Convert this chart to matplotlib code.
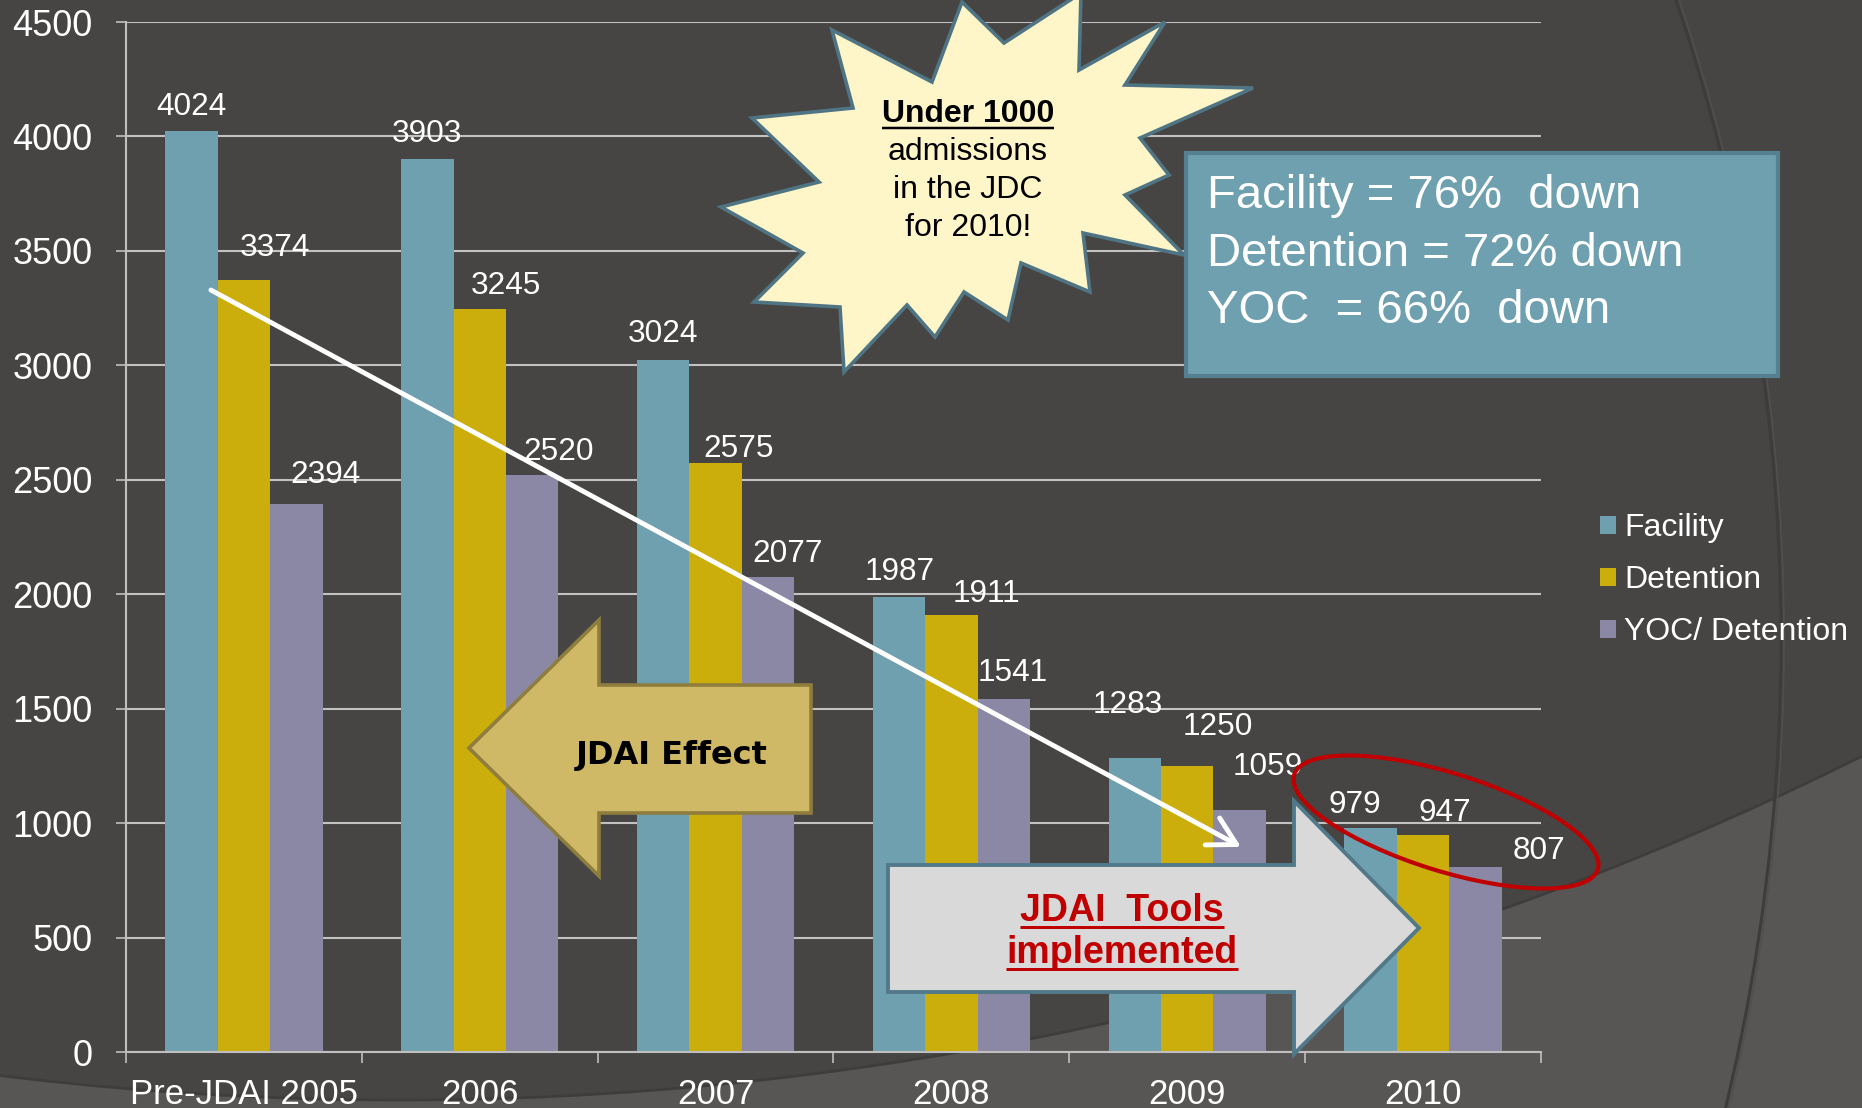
import matplotlib
matplotlib.use('Agg')
import matplotlib.pyplot as plt
from matplotlib.patches import Polygon, Ellipse, Circle, Rectangle
import numpy as np

plt.rcParams['font.family'] = ['Liberation Sans', 'DejaVu Sans']

# ---------------- data ----------------
categories = ['Pre-JDAI 2005', '2006', '2007', '2008', '2009', '2010']
facility = [4024, 3903, 3024, 1987, 1283, 979]
detention = [3374, 3245, 2575, 1911, 1250, 947]
yoc = [2394, 2520, 2077, 1541, 1059, 807]
series_names = ['Facility', 'Detention', 'YOC/ Detention']
y_ticks = [0, 500, 1000, 1500, 2000, 2500, 3000, 3500, 4000, 4500]

starburst_lines = ['Under 1000', 'admissions', 'in the JDC', 'for 2010!']
box_lines = ['Facility = 76%  down', 'Detention = 72% down', 'YOC  = 66%  down']
effect_text = 'JDAI Effect'
tools_lines = ['JDAI  Tools', 'implemented']

# label placement nudges (pixels, layout only)
nudge_fac = [(0, 27), (0, 28), (0, 29), (1, 28), (-7, 56), (-16, 26)]
nudge_det = [(31, 35), (26, 26), (23, 17), (35, 24), (31, 42), (22, 25)]
nudge_yoc = [(29, 32), (26, 26), (20, 26), (9, 29), (28, 46), (64, 19)]

# ---------------- styling ----------------
W, H = 1862, 1108
BG_DARK = '#464544'
BG_LIGHT = '#575655'
C_FAC = '#6FA0AF'
C_DET = '#CBAE0C'
C_YOC = '#8B88A5'
GRID = '#C2C2C2'
SLATE = '#4F7584'

fig = plt.figure(figsize=(W / 100, H / 100), dpi=100)
fig.patch.set_facecolor(BG_LIGHT)

# background decoration
bg = fig.add_axes([0, 0, 1, 1], zorder=0)
bg.set_xlim(0, W)
bg.set_ylim(H, 0)
bg.axis('off')
bg.add_patch(Circle((400, -2180), 3280, facecolor=BG_DARK, edgecolor='#3e3d3c', lw=2))
bg.add_patch(Circle((-222, 640), 2003, facecolor='none', edgecolor='#3d3c3b', lw=2.2))
bg.add_patch(Circle((-222, 640), 2006, facecolor='none', edgecolor='#504f4e', lw=1.2))

# main chart axes
ax = fig.add_axes([126 / W, 1 - 1052 / H, (1541 - 126) / W, (1052 - 22) / H], zorder=1)
ax.set_facecolor('none')

x = np.arange(len(categories))
w = 1 / 4.5
series = [facility, detention, yoc]
colors = [C_FAC, C_DET, C_YOC]
nudges = [nudge_fac, nudge_det, nudge_yoc]
for i, (vals, name, c, nd) in enumerate(zip(series, series_names, colors, nudges)):
    xs = x + (i - 1) * w
    ax.bar(xs, vals, width=w, color=c, label=name, zorder=2)
    for xi, v, (dx, dy) in zip(xs, vals, nd):
        ax.annotate(f'{v}', xy=(xi, v), xytext=(dx, dy - 11), textcoords='offset pixels',
                    ha='center', va='baseline', color='white', fontsize=22.7, zorder=4)

ax.set_xlim(-0.5, len(categories) - 0.5)
ax.set_ylim(0, 4500)
ax.set_yticks(y_ticks)
ax.yaxis.grid(True, color=GRID, lw=1.5)
ax.set_axisbelow(True)
ax.set_xticks(x)
ax.set_xticklabels(categories)
ax.set_xticks(np.arange(-0.5, len(categories), 1), minor=True)
ax.tick_params(axis='x', which='major', length=0, pad=19, labelsize=25, labelcolor='white')
ax.tick_params(axis='x', which='minor', length=8, width=1.2, color='#BFBFBF', direction='out')
ax.tick_params(axis='y', length=7.2, width=1.2, color='#BFBFBF', pad=17, labelsize=26,
               labelcolor='white')
for s in ['top', 'right']:
    ax.spines[s].set_visible(False)
for s in ['left', 'bottom']:
    ax.spines[s].set_color('#BFBFBF')
    ax.spines[s].set_linewidth(1.5)

leg = ax.legend(loc='upper left', bbox_to_anchor=(1600 / W, 1 - 513 / H),
                bbox_transform=fig.transFigure, frameon=False, fontsize=23,
                labelcolor='white', handlelength=0.5, handleheight=0.5,
                handletextpad=0.25, labelspacing=0.69, borderpad=0, borderaxespad=0)

# trend arrow (annotation)
ax.annotate('', xy=(4.228, 896), xytext=(-0.140, 3329),
            arrowprops=dict(arrowstyle='->,head_length=0.9,head_width=0.5', color='white',
                            lw=3.5, shrinkA=0, shrinkB=0, mutation_scale=22), zorder=5)

# overlay shapes
ov = fig.add_axes([0, 0, 1, 1], zorder=3)
ov.set_xlim(0, W)
ov.set_ylim(H, 0)
ov.axis('off')

star = [(962, 2), (1004, 43), (1081, -7), (1079, 70), (1165, 22), (1125, 85), (1253, 88),
        (1140, 138), (1169, 175), (1125, 195), (1184, 255), (1083, 233), (1090, 292),
        (1021, 263), (1008, 320), (964, 292), (935, 337), (907, 305), (844, 372),
        (840, 307), (754, 302), (803, 253), (721, 207), (819, 182), (752, 118),
        (853, 108), (832, 30), (932, 82)]
ov.add_patch(Polygon(star, closed=True, facecolor='#FEF5C8', edgecolor=SLATE, lw=2.6,
                     joinstyle='miter'))

ov.add_patch(Rectangle((1186, 153), 592, 223, facecolor=C_FAC, edgecolor='#55808F', lw=3))

tan = [(469, 748), (599, 620), (599, 685), (811, 685), (811, 813), (599, 813), (599, 876)]
ov.add_patch(Polygon(tan, closed=True, facecolor='#CFB967', edgecolor='#8E7D3D', lw=2.6,
                     joinstyle='miter'))

gray = [(888, 865), (1294, 865), (1294, 801), (1419, 928), (1294, 1054), (1294, 992), (888, 992)]
ov.add_patch(Polygon(gray, closed=True, facecolor='#D9D9D9', edgecolor='#52798A', lw=2.8,
                     joinstyle='miter'))

ov.add_patch(Ellipse((1446, 822), 318, 98, angle=17.3, facecolor='none', edgecolor='#C00000',
                     lw=3))

renderer = fig.canvas.get_renderer()


def underline(t, y, thick, color):
    bb = t.get_window_extent(renderer=renderer)
    ov.plot([bb.x0, bb.x1], [y, y], color=color, lw=thick * 0.72, solid_capstyle='butt')


# starburst text
sb_base = [122, 160, 198, 236]
for k, (line, yb) in enumerate(zip(starburst_lines, sb_base)):
    t = ov.text(968, yb, line, ha='center', va='baseline', fontsize=23, color='black',
                fontweight='bold' if k == 0 else 'normal')
    if k == 0:
        underline(t, yb + 6, 2.5, 'black')

# box text
for line, yb in zip(box_lines, [208, 266, 323]):
    ov.text(1207, yb, line, ha='left', va='baseline', fontsize=34, color='white')

# JDAI Effect
ov.text(672, 764, effect_text, ha='center', va='baseline', fontsize=23, fontweight='bold',
        color='black', family='DejaVu Sans')

# JDAI Tools implemented
for line, yb in zip(tools_lines, [921, 963]):
    t = ov.text(1122, yb, line, ha='center', va='baseline', fontsize=27, fontweight='bold',
                color='#C00000')
    underline(t, yb + 6, 3, '#C00000')

fig.savefig('out.png', dpi=100, facecolor=fig.get_facecolor())
